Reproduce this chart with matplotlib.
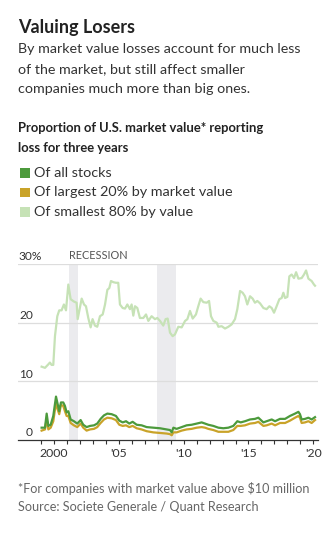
import numpy as np
import matplotlib.pyplot as plt

# decimal years / percent values
small_years = [1999.05, 1999.31, 1999.57, 1999.69, 1999.82, 1999.95, 2000.08, 2000.26,
               2000.41, 2000.59, 2000.77, 2000.93, 2001.11, 2001.29, 2001.54, 2001.75,
               2001.83, 2002.14, 2002.32, 2002.47, 2002.65, 2002.83, 2002.98, 2003.16,
               2003.34, 2003.55, 2003.76, 2003.94, 2004.12, 2004.27, 2004.40, 2004.58,
               2004.78, 2004.96, 2005.09, 2005.30, 2005.48, 2005.66, 2005.86, 2005.99,
               2006.12, 2006.25, 2006.43, 2006.63, 2006.89, 2007.10, 2007.28, 2007.53,
               2007.79, 2007.97, 2008.18, 2008.43, 2008.61, 2008.77, 2008.95, 2009.15,
               2009.33, 2009.59, 2009.85, 2010.11, 2010.29, 2010.49, 2010.70, 2010.95,
               2011.13, 2011.31, 2011.52, 2011.78, 2011.96, 2012.11, 2012.29, 2012.55,
               2012.68, 2012.93, 2013.19, 2013.45, 2013.70, 2013.96, 2014.14, 2014.35,
               2014.55, 2014.73, 2014.91, 2015.12, 2015.32, 2015.50, 2015.68, 2015.89,
               2016.15, 2016.40, 2016.61, 2016.79, 2016.97, 2017.17, 2017.38, 2017.56,
               2017.69, 2017.82, 2018.00, 2018.15, 2018.33, 2018.51, 2018.67, 2018.85,
               2019.10, 2019.28, 2019.44, 2019.62, 2019.87, 2020.05, 2020.13]
smallest_80 = [12.5, 12.3, 12.9, 13.2, 12.8, 12.8, 17.7, 21.1,
               22.1, 22.1, 23.1, 22.1, 26.5, 24.0, 23.6, 23.4,
               20.6, 24.1, 23.1, 22.8, 20.8, 19.2, 20.6, 19.5,
               19.3, 21.1, 21.4, 23.1, 25.6, 25.9, 27.1, 26.9,
               26.8, 26.8, 23.1, 22.5, 22.4, 23.1, 22.3, 23.1,
               21.2, 22.8, 22.5, 20.8, 20.8, 21.4, 20.3, 21.1,
               20.6, 20.8, 20.3, 19.5, 20.6, 20.7, 18.3, 17.7,
               18.0, 19.3, 19.2, 20.3, 20.6, 22.0, 20.7, 21.4,
               22.8, 24.1, 23.5, 23.4, 23.7, 21.1, 20.3, 20.0,
               19.3, 19.4, 19.0, 19.3, 19.7, 20.6, 22.3, 25.4,
               25.1, 24.5, 23.1, 24.5, 24.1, 23.4, 23.7, 23.3,
               22.5, 22.3, 22.8, 22.5, 21.7, 22.8, 24.0, 24.2,
               25.1, 24.2, 24.4, 27.9, 28.2, 27.6, 28.6, 27.5,
               27.6, 28.2, 28.9, 27.5, 27.1, 26.5, 26.3]

years = [1999.05, 1999.31, 1999.44, 1999.57, 1999.75, 1999.95, 2000.16, 2000.29,
         2000.41, 2000.54, 2000.72, 2000.85, 2000.98, 2001.11, 2001.29, 2001.54,
         2001.80, 2002.06, 2002.26, 2002.52, 2002.78, 2003.09, 2003.34, 2003.60,
         2003.86, 2004.12, 2004.45, 2004.78, 2005.04, 2005.30, 2005.56, 2005.81,
         2006.07, 2006.38, 2006.76, 2007.15, 2007.66, 2008.18, 2008.69, 2008.95,
         2009.08, 2009.21, 2009.46, 2009.85, 2010.23, 2010.62, 2011.01, 2011.39,
         2011.65, 2011.90, 2012.29, 2012.68, 2013.06, 2013.45, 2013.83, 2014.14,
         2014.40, 2014.73, 2015.12, 2015.50, 2015.76, 2016.15, 2016.40, 2016.79,
         2017.05, 2017.43, 2017.82, 2018.20, 2018.59, 2018.85, 2018.97, 2019.10,
         2019.36, 2019.62, 2019.87, 2020.13]
all_stocks = [2.1, 2.1, 4.5, 2.4, 2.6, 4.1, 7.4, 6.1,
              4.9, 6.4, 6.4, 5.8, 4.7, 4.9, 3.5, 3.2,
              2.8, 3.4, 2.6, 2.2, 2.4, 2.5, 2.8, 3.6,
              4.2, 4.5, 4.4, 4.1, 3.3, 3.0, 3.2, 2.8,
              3.1, 2.6, 2.5, 2.2, 2.1, 2.0, 1.8, 1.7,
              1.3, 2.1, 1.9, 2.2, 2.5, 2.6, 2.8, 3.0,
              2.8, 2.6, 2.4, 2.1, 2.0, 2.1, 2.4, 3.2,
              3.0, 3.2, 3.5, 3.6, 3.8, 3.0, 3.2, 3.5,
              3.2, 3.6, 3.6, 4.1, 4.5, 4.8, 4.4, 3.5,
              3.6, 3.8, 3.5, 3.9]
largest_20 = [1.6, 1.8, 3.6, 1.8, 2.1, 3.2, 6.4, 5.2,
              4.4, 6.0, 5.8, 4.9, 4.1, 4.1, 2.9, 2.5,
              2.2, 2.8, 2.1, 1.6, 1.8, 1.9, 2.2, 2.9,
              3.5, 3.8, 3.7, 3.4, 2.6, 2.4, 2.5, 2.2,
              2.4, 2.0, 1.8, 1.5, 1.3, 1.2, 1.1, 1.0,
              0.8, 1.3, 1.3, 1.6, 1.8, 1.9, 2.1, 2.2,
              2.1, 1.9, 1.7, 1.4, 1.4, 1.4, 1.7, 2.4,
              2.4, 2.5, 2.8, 2.9, 3.1, 2.4, 2.5, 2.8,
              2.5, 2.9, 2.9, 3.3, 3.8, 4.1, 3.8, 2.9,
              3.0, 3.2, 2.9, 3.4]

recessions = [(2001.19, 2001.88), (2007.98, 2009.40)]
year_ticks = list(range(1999, 2021))
year_labels = {2000: '2000', 2005: "'05", 2010: "'10", 2015: "'15", 2020: "'20"}

GREEN = '#4c9a3c'
GOLD = '#c9a329'
LIGHT = '#c6e2b6'
DARK = '#333333'

plt.rcParams['font.family'] = ['Lato', 'DejaVu Sans']

W, H = 334, 537
fig = plt.figure(figsize=(W / 100, H / 100), dpi=100)


def px(x, y):
    return x / W, 1 - y / H


# header texts
fig.text(*px(18, 33), 'Valuing Losers', fontsize=13, fontweight='bold', color='#222222', va='baseline')
sub = ['By market value losses account for much less',
       'of the market, but still affect smaller',
       'companies much more than big ones.']
for i, s in enumerate(sub):
    fig.text(*px(18, 53 + i * 20), s, fontsize=10.3, color=DARK, va='baseline')
fig.text(*px(18, 132), 'Proportion of U.S. market value* reporting', fontsize=9.4,
         fontweight='bold', color='#222222', va='baseline')
fig.text(*px(18, 152), 'loss for three years', fontsize=9.4, fontweight='bold',
         color='#222222', va='baseline')

legend = [('Of all stocks', GREEN), ('Of largest 20% by market value', GOLD),
          ('Of smallest 80% by value', LIGHT)]
for i, (lab, c) in enumerate(legend):
    y = 173 + i * 19.5
    fig.patches.append(plt.Rectangle(px(20, y + 4.5), 10 / W, 9 / H, transform=fig.transFigure,
                                     color=c, lw=0))
    fig.text(*px(34, y), lab, fontsize=10.4, color=DARK, va='center')

fig.text(*px(18, 493), '*For companies with market value above $10 million', fontsize=9.1,
         color='#666666', va='baseline')
fig.text(*px(18, 511), 'Source: Societe Generale / Quant Research', fontsize=9.1,
         color='#666666', va='baseline')

# chart
ax = fig.add_axes([18 / W, (H - 440) / H, 300 / W, 176 / H])
ax.set_xlim(1997.23, 2020.36)
ax.set_ylim(0, 30)

for a, b in recessions:
    ax.axvspan(a, b, color='#ebebee', lw=0, zorder=0)
ax.text(recessions[0][0], 30.5, 'RECESSION', fontsize=7.8, color='#555555', va='bottom', ha='left')

for v in [10, 20, 30]:
    ax.axhline(v, color='#dddddd', lw=0.9, zorder=1)

ax.plot(small_years, smallest_80, color=LIGHT, lw=1.6, zorder=3, solid_joinstyle='round')
ax.plot(years, largest_20, color=GOLD, lw=1.6, zorder=4, solid_joinstyle='round')
ax.plot(years, all_stocks, color=GREEN, lw=1.6, zorder=5, solid_joinstyle='round')

for v in [0, 10, 20]:
    ax.annotate(str(v), xy=(0.05, v), xycoords=('axes fraction', 'data'), xytext=(0, 1.2),
                textcoords='offset points', ha='right', va='bottom', fontsize=8.6, color=DARK)
ax.annotate('30%', xy=(0, 30), xycoords=('axes fraction', 'data'), xytext=(0, 1.2),
            textcoords='offset points', ha='left', va='bottom', fontsize=8.6, color=DARK)

for s in ['top', 'right', 'left']:
    ax.spines[s].set_visible(False)
ax.spines['bottom'].set_color(DARK)
ax.spines['bottom'].set_linewidth(0.9)
ax.set_xticks(year_ticks)
ax.set_xticklabels([year_labels.get(y, '') for y in year_ticks])
ax.tick_params(axis='x', length=3, width=0.8, color=DARK, labelsize=8.8, labelcolor=DARK, pad=3)
ax.set_yticks([])
ax.set_facecolor('none')

fig.savefig('out.png', dpi=100)
